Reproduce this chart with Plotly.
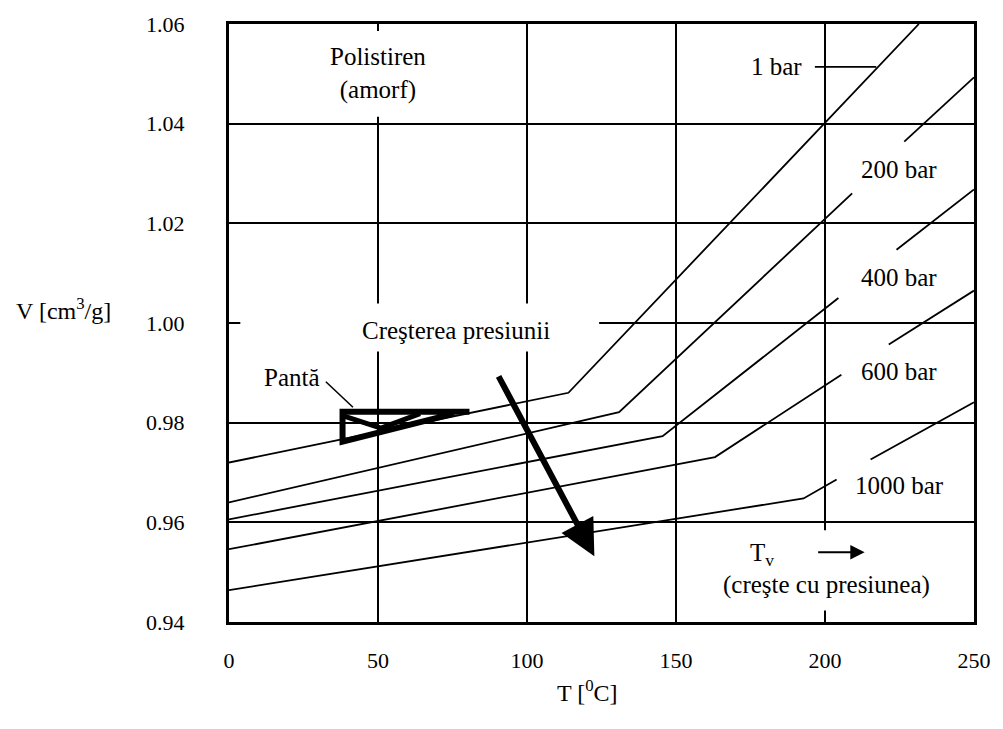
import plotly.graph_objects as go

# ---- data ----
T_1bar = [0, 113.9, 231.5]
V_1bar = [0.972, 0.986, 1.06]

T_200bar = [0, 130.9, 209.1, None, 226.6, 250]
V_200bar = [0.964, 0.9821, 1.026, None, 1.0364, 1.0493]

T_400bar = [0, 145.5, 204.5, None, 224.0, 250]
V_400bar = [0.9606, 0.9773, 1.005, None, 1.0147, 1.0268]

T_600bar = [0, 163.1, 205.5, None, 221.4, 250]
V_600bar = [0.9546, 0.9731, 0.9896, None, 0.9957, 1.0065]

T_1000bar = [0, 192.8, 203.9, None, 215.3, 250]
V_1000bar = [0.9464, 0.9648, 0.9686, None, 0.9726, 0.9841]

x_ticks = [0, 50, 100, 150, 200, 250]
y_ticks = [0.94, 0.96, 0.98, 1.00, 1.02, 1.04, 1.06]
y_tick_labels = ["0.94", "0.96", "0.98", "1.00", "1.02", "1.04", "1.06"]

series = [
    ("1 bar", T_1bar, V_1bar),
    ("200 bar", T_200bar, V_200bar),
    ("400 bar", T_400bar, V_400bar),
    ("600 bar", T_600bar, V_600bar),
    ("1000 bar", T_1000bar, V_1000bar),
]

FONT = "Liberation Serif, Times New Roman, serif"

fig = go.Figure()
for name, xs, ys in series:
    fig.add_trace(go.Scatter(x=xs, y=ys, mode="lines", name=name,
                             line=dict(color="black", width=1.8),
                             connectgaps=False, showlegend=False, hoverinfo="skip"))

shapes = []
# white boxes hiding the grid behind text blocks
for x0, x1, y0, y1 in [(25, 74, 1.0414, 1.0586),
                       (3.8, 124.2, 0.9943, 1.0039),
                       (164.4, 239.3, 0.9423, 0.9584)]:
    shapes.append(dict(type="rect", xref="x", yref="y", x0=x0, x1=x1, y0=y0, y1=y1,
                       fillcolor="white", line=dict(width=0), layer="between"))
# slope triangle
shapes.append(dict(type="path", xref="x", yref="y",
                   path="M 80.7,0.9822 L 38.1,0.9822 L 38.1,0.9762 L 75.5,0.9818",
                   line=dict(color="black", width=6), layer="above"))
shapes.append(dict(type="path", xref="x", yref="y",
                   path="M 38.1,0.9814 L 51,0.9789 L 64.1,0.9818",
                   line=dict(color="black", width=5), layer="above"))
# leader lines
shapes.append(dict(type="line", xref="x", yref="y", x0=32.5, y0=0.9882, x1=41.6, y1=0.9831,
                   line=dict(color="black", width=1.5), layer="above"))
shapes.append(dict(type="line", xref="x", yref="y", x0=196.6, y0=1.0514, x1=217.2, y1=1.0514,
                   line=dict(color="black", width=1.8), layer="above"))

ann = []
def label(text, x, y, size=25):
    ann.append(dict(text=text, x=x, y=y, xref="x", yref="y", showarrow=False,
                    font=dict(family=FONT, size=size, color="black"),
                    xanchor="center", yanchor="middle"))

label("Polistiren<br>(amorf)", 50, 1.050)
label("1 bar", 183.8, 1.0514)
label("200 bar", 224.7, 1.0309)
label("400 bar", 224.7, 1.0092)
label("600 bar", 224.7, 0.9902)
label("1000 bar", 225, 0.9674)
label("Creşterea presiunii", 76.1, 0.9984)
label("Pantă", 21, 0.989)
label("T<sub>v</sub>", 179, 0.9536)
label("(creşte cu presiunea)", 200.6, 0.9474)

# arrows
ann.append(dict(x=122.6, y=0.9532, ax=90.2, ay=0.9896, xref="x", yref="y", axref="x", ayref="y",
                text="", showarrow=True, arrowhead=2, arrowsize=1.2, arrowwidth=6, arrowcolor="black"))
ann.append(dict(x=213.3, y=0.954, ax=197.2, ay=0.954, xref="x", yref="y", axref="x", ayref="y",
                text="", showarrow=True, arrowhead=2, arrowsize=1.3, arrowwidth=2.2, arrowcolor="black"))

# axis titles
ann.append(dict(text="V [cm<sup>3</sup>/g]", x=(61 - 229) / 754, y=(622 - 307) / 602,
                xref="paper", yref="paper", showarrow=False, xanchor="center", yanchor="middle",
                font=dict(family=FONT, size=24, color="black")))
ann.append(dict(text="T [<sup>0</sup>C]", x=(592 - 229) / 754, y=(622 - 691) / 602,
                xref="paper", yref="paper", showarrow=False, xanchor="center", yanchor="middle",
                font=dict(family=FONT, size=24, color="black")))

fig.update_layout(
    width=1003, height=729,
    margin=dict(l=229, r=20, t=20, b=107),
    plot_bgcolor="white", paper_bgcolor="white",
    shapes=shapes, annotations=ann,
    font=dict(family=FONT, size=22, color="black"),
)
fig.update_xaxes(range=[0, 250], tickvals=x_ticks, showgrid=True, gridcolor="black", gridwidth=2,
                 showline=True, linecolor="black", linewidth=3, mirror=True, zeroline=False,
                 ticks="", ticklabelstandoff=17, tickfont=dict(family=FONT, size=22))
fig.update_yaxes(range=[0.94, 1.06], tickvals=y_ticks, ticktext=y_tick_labels, showgrid=True,
                 gridcolor="black", gridwidth=2, showline=True, linecolor="black", linewidth=3,
                 mirror=True, zeroline=False, ticks="", ticklabelstandoff=37,
                 tickfont=dict(family=FONT, size=22))

fig.write_html("out.html", config={"displayModeBar": False},
               post_script="document.body.style.margin='0';document.body.style.overflow='hidden';")
